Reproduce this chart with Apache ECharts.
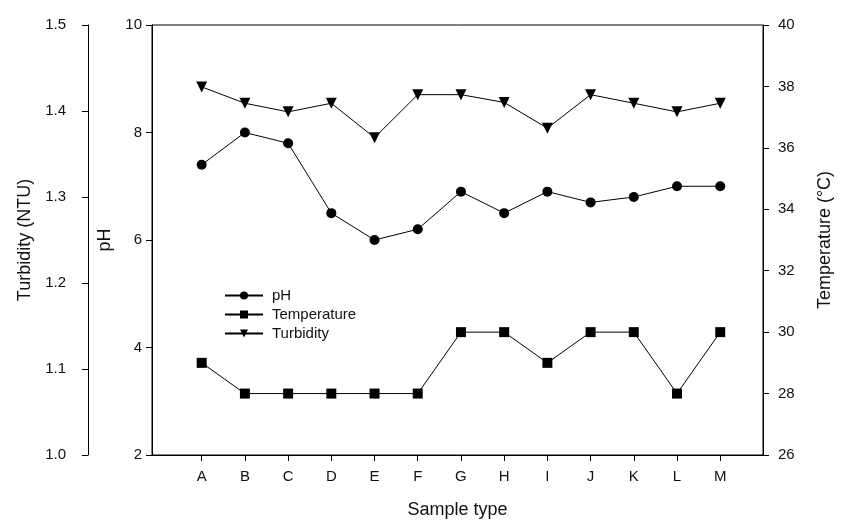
<!DOCTYPE html>
<html>
<head>
<meta charset="utf-8">
<script src="https://cdn.jsdelivr.net/npm/echarts@6/dist/echarts.min.js"></script>
<style>
  html, body { margin: 0; padding: 0; background: #fff; }
  #main { width: 842px; height: 525px; }
</style>
</head>
<body>
<div id="main"></div>
<script>
// sample types along the x axis
var sampleTypes = ['A', 'B', 'C', 'D', 'E', 'F', 'G', 'H', 'I', 'J', 'K', 'L', 'M'];
// values
var phValues = [7.4, 8.0, 7.8, 6.5, 6.0, 6.2, 6.9, 6.5, 6.9, 6.7, 6.8, 7.0, 7.0];
var temperatureValues = [29, 28, 28, 28, 28, 28, 30, 30, 29, 30, 30, 28, 30];
var turbidityValues = [1.428, 1.409, 1.399, 1.409, 1.369, 1.419, 1.419, 1.410, 1.380, 1.419, 1.409, 1.399, 1.409];
var tickIndex = sampleTypes.map(function (s, i) { return i; });

var font = '"Liberation Sans", Arial, sans-serif';
var black = '#000';

function pairs(values) {
  return values.map(function (v, i) { return [i, v]; });
}

var chart = echarts.init(document.getElementById('main'));

var axisBase = {
  splitLine: { show: false },
  axisLine: { show: true, onZero: false, lineStyle: { color: black, width: 1 } },
  axisTick: { show: true, length: 6, lineStyle: { color: black } },
  axisLabel: { color: '#111', fontSize: 15, fontFamily: font },
  nameTextStyle: { color: '#111', fontSize: 18, fontFamily: font }
};

function lineSeries(name, values, yIndex, symbol, size, rotate) {
  return {
    name: name,
    type: 'line',
    yAxisIndex: yIndex,
    data: pairs(values),
    symbol: symbol,
    symbolSize: size,
    symbolRotate: rotate || 0,
    showAllSymbol: true,
    lineStyle: { color: black, width: 1 },
    itemStyle: { color: black, borderWidth: 0 },
    emphasis: { disabled: true },
    animation: false
  };
}

var option = {
  animation: false,
  grid: {
    left: 152, right: 76, top: 25, bottom: 70,
    show: true, borderColor: black, borderWidth: 1
  },
  legend: {
    orient: 'vertical',
    left: 219,
    top: 283,
    itemWidth: 38,
    itemHeight: 10,
    itemGap: 4,
    symbolRotate: 'inherit',
    data: ['pH', 'Temperature', 'Turbidity'],
    textStyle: { color: '#111', fontSize: 15, fontFamily: font, padding: [0, 0, 0, 4] }
  },
  xAxis: Object.assign({}, axisBase, {
    type: 'value',
    min: -1.15,
    max: 12.99,
    name: 'Sample type',
    nameLocation: 'middle',
    nameGap: 46,
    axisTick: { show: true, length: 6, lineStyle: { color: black }, customValues: tickIndex },
    axisLabel: {
      color: '#111', fontSize: 15, fontFamily: font, margin: 14,
      customValues: tickIndex,
      formatter: function (v) { return sampleTypes[v]; }
    }
  }),
  yAxis: [
    Object.assign({}, axisBase, {
      type: 'value',
      position: 'left',
      min: 2, max: 10, interval: 2,
      name: 'pH',
      nameLocation: 'middle',
      nameGap: 33,
      axisLabel: { color: '#111', fontSize: 15, fontFamily: font, margin: 10 }
    }),
    Object.assign({}, axisBase, {
      type: 'value',
      position: 'right',
      min: 26, max: 40, interval: 2,
      name: 'Temperature (\u00B0C)',
      nameLocation: 'middle',
      nameGap: 53,
      axisLabel: { color: '#111', fontSize: 15, fontFamily: font, margin: 15 }
    }),
    Object.assign({}, axisBase, {
      type: 'value',
      position: 'left',
      offset: 64,
      min: 1.0, max: 1.5, interval: 0.1,
      name: 'Turbidity (NTU)',
      nameLocation: 'middle',
      nameGap: 54,
      axisLabel: {
        color: '#111', fontSize: 15, fontFamily: font, margin: 22,
        formatter: function (v) { return v.toFixed(1); }
      }
    })
  ],
  series: [
    lineSeries('pH', phValues, 0, 'circle', 10),
    lineSeries('Temperature', temperatureValues, 1, 'rect', 10),
    lineSeries('Turbidity', turbidityValues, 2, 'triangle', 11, 180)
  ]
};

chart.setOption(option);
</script>
</body>
</html>
